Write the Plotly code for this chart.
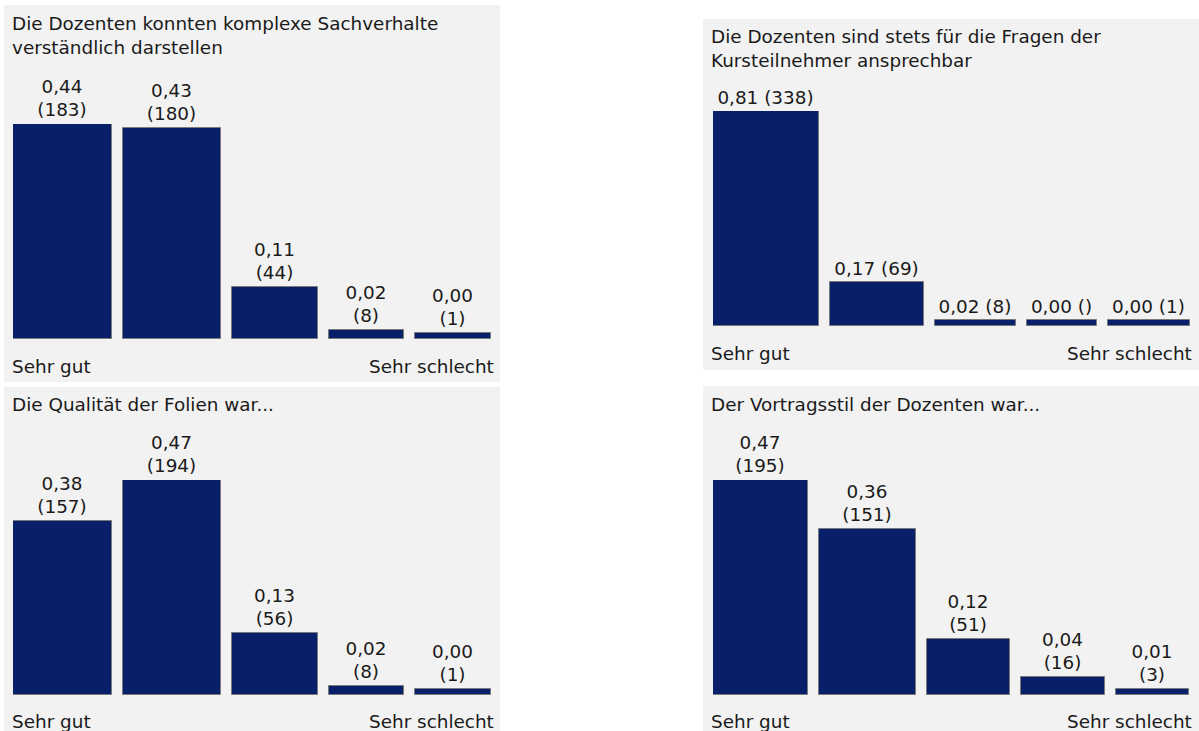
import plotly.graph_objects as go

# ---------------- data ----------------
categories = ["1", "2", "3", "4", "5"]
scale_labels = ["Sehr gut", "Sehr schlecht"]

title_1 = "Die Dozenten konnten komplexe Sachverhalte<br>verständlich darstellen"
fractions_1 = [0.44, 0.43, 0.11, 0.02, 0.00]
counts_1 = [183, 180, 44, 8, 1]

title_2 = "Die Dozenten sind stets für die Fragen der<br>Kursteilnehmer ansprechbar"
fractions_2 = [0.81, 0.17, 0.02, 0.00, 0.00]
counts_2 = [338, 69, 8, None, 1]

title_3 = "Die Qualität der Folien war..."
fractions_3 = [0.38, 0.47, 0.13, 0.02, 0.00]
counts_3 = [157, 194, 56, 8, 1]

title_4 = "Der Vortragsstil der Dozenten war..."
fractions_4 = [0.47, 0.36, 0.12, 0.04, 0.01]
counts_4 = [195, 151, 51, 16, 3]

# ---------------- layout / style (pixels) ----------------
W, H = 1199, 731
FONT = "DejaVu Sans"
FS = 18.4
TXT = "#1a1a1a"
BAR = "#08206a"
BAR_LINE = "#7a7a7a"
PANEL_BG = "#f2f2f2"
MAX_BAR_PX = 215
MIN_BAR_PX = 6
GAP = 11

panels = [
    dict(title=title_1, fr=fractions_1, ct=counts_1, box=(4, 5, 500, 382), title_y=35.5,
         first=13, widths=[99, 98, 86, 75, 76], base=339, scale_y=366, oneline=False),
    dict(title=title_2, fr=fractions_2, ct=counts_2, box=(703, 19, 1199, 370), title_y=48,
         first=713, widths=[106, 94, 81, 70, 82], base=326, scale_y=353, oneline=True),
    dict(title=title_3, fr=fractions_3, ct=counts_3, box=(4, 387, 500, 740), title_y=404,
         first=13, widths=[99, 98, 86, 75, 76], base=695, scale_y=721, oneline=False),
    dict(title=title_4, fr=fractions_4, ct=counts_4, box=(703, 386, 1199, 740), title_y=404,
         first=713, widths=[95, 97, 83, 84, 73], base=695, scale_y=721, oneline=False),
]


def px_x(x):
    return x / W


def px_y(y):
    return 1 - y / H


def fmt(v):
    return f"{v:.2f}".replace(".", ",")


fig = go.Figure()
shapes = []
annotations = []

for i, p in enumerate(panels):
    n = i + 1
    xa = "x" if n == 1 else f"x{n}"
    ya = "y" if n == 1 else f"y{n}"
    x0, y0, x1, y1 = p["box"]
    shapes.append(dict(type="rect", xref="paper", yref="paper", layer="below",
                       x0=px_x(x0), x1=px_x(x1), y0=px_y(y1), y1=px_y(y0),
                       fillcolor=PANEL_BG, line=dict(width=0)))

    # column centres from style widths
    centers = []
    pos = p["first"]
    for w in p["widths"]:
        centers.append(pos + w / 2)
        pos += w + GAP
    right = pos - GAP

    counts_num = [c if c is not None else 0 for c in p["ct"]]
    cmax = max(counts_num)
    k = MAX_BAR_PX / cmax
    heights = [max(c, MIN_BAR_PX / k) for c in counts_num]
    sep = " " if p["oneline"] else "<br>"
    labels = [f"{fmt(f)}{sep}({'' if c is None else c})" for f, c in zip(p["fr"], p["ct"])]

    fig.add_trace(go.Bar(
        x=centers, y=heights, width=p["widths"], text=labels,
        customdata=categories,
        textposition="outside", constraintext="none", cliponaxis=False,
        textfont=dict(family=FONT, size=FS, color=TXT),
        marker=dict(color=BAR, line=dict(color=BAR_LINE, width=1)),
        xaxis=xa, yaxis=ya, showlegend=False, hoverinfo="skip",
    ))

    xkey = "xaxis" if n == 1 else f"xaxis{n}"
    ykey = "yaxis" if n == 1 else f"yaxis{n}"
    fig.update_layout({
        xkey: dict(domain=[px_x(p["first"]), px_x(right)], range=[p["first"], right],
                   visible=False, fixedrange=True, anchor=ya),
        ykey: dict(domain=[px_y(p["base"]), px_y(p["base"] - MAX_BAR_PX)], range=[0, cmax],
                   visible=False, fixedrange=True, anchor=xa),
    })

    annotations.append(dict(text=p["title"], xref="paper", yref="paper",
                            x=px_x(x0 + 6), y=px_y(p["title_y"]), xanchor="left",
                            yanchor="middle", align="left", showarrow=False,
                            font=dict(family=FONT, size=FS, color=TXT)))
    annotations.append(dict(text=scale_labels[0], xref="paper", yref="paper",
                            x=px_x(x0 + 6), y=px_y(p["scale_y"]), xanchor="left",
                            yanchor="middle", showarrow=False,
                            font=dict(family=FONT, size=FS, color=TXT)))
    annotations.append(dict(text=scale_labels[1], xref="paper", yref="paper",
                            x=px_x(min(x1, 1198) - 4), y=px_y(p["scale_y"]), xanchor="right",
                            yanchor="middle", showarrow=False,
                            font=dict(family=FONT, size=FS, color=TXT)))

fig.update_layout(
    width=W, height=H, margin=dict(l=0, r=0, t=0, b=0),
    paper_bgcolor="white", plot_bgcolor="rgba(0,0,0,0)",
    shapes=shapes, annotations=annotations, bargap=0,
    font=dict(family=FONT, size=FS, color=TXT),
)

fig.write_html("out.html", config={"displayModeBar": False},
               post_script="document.body.style.margin='0';document.body.style.overflow='hidden';")
